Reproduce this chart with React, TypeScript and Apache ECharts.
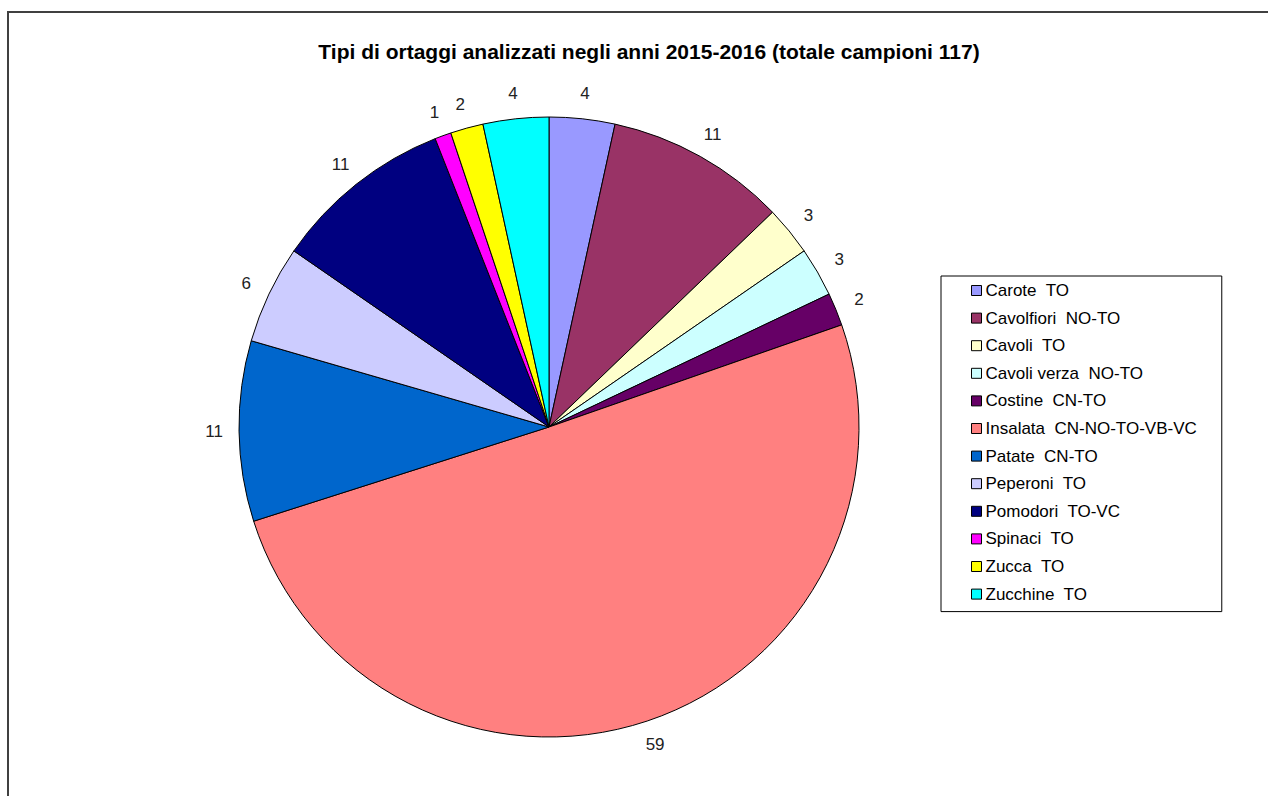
import React, { useEffect, useRef } from "react";
import * as echarts from "echarts";

const categories = [
  "Carote  TO",
  "Cavolfiori  NO-TO",
  "Cavoli  TO",
  "Cavoli verza  NO-TO",
  "Costine  CN-TO",
  "Insalata  CN-NO-TO-VB-VC",
  "Patate  CN-TO",
  "Peperoni  TO",
  "Pomodori  TO-VC",
  "Spinaci  TO",
  "Zucca  TO",
  "Zucchine  TO",
];
const values = [4, 11, 3, 3, 2, 59, 11, 6, 11, 1, 2, 4];
const colors = [
  "#9999FF",
  "#993366",
  "#FFFFCC",
  "#CCFFFF",
  "#660066",
  "#FF8080",
  "#0066CC",
  "#CCCCFF",
  "#000080",
  "#FF00FF",
  "#FFFF00",
  "#00FFFF",
];
const title = "Tipi di ortaggi analizzati negli anni 2015-2016 (totale campioni 117)";

const FONT = "'Liberation Sans', Arial, sans-serif";

export default function App() {
  const ref = useRef<HTMLDivElement>(null);
  useEffect(() => {
    if (!ref.current) return;
    const chart = echarts.init(ref.current, undefined, { renderer: "svg" });
    chart.setOption({
      animation: false,
      backgroundColor: "#fff",
      title: {
        text: title,
        left: 644,
        top: 36,
        textAlign: "center",
        textStyle: { fontFamily: FONT, fontSize: 21, fontWeight: "bold", color: "#000" },
      },
      legend: {
        orient: "vertical",
        left: 941,
        top: 276,
        padding: [6, 25, 9, 30],
        borderColor: "#000",
        borderWidth: 1,
        itemWidth: 10,
        itemHeight: 10,
        itemGap: 10.6,
        icon: "rect",
        itemStyle: { borderColor: "#000", borderWidth: 1 },
        textStyle: { fontFamily: FONT, fontSize: 17, color: "#000", lineHeight: 17, padding: [0, 0, 0, -1] },
        data: categories,
      },
      graphic: [
        {
          type: "rect",
          shape: { x: 8, y: 12, width: 1300, height: 850 },
          style: { fill: "none", stroke: "#404040", lineWidth: 2 },
          silent: true,
        },
      ],
      series: [
        {
          type: "pie",
          center: [549, 427],
          radius: 310,
          startAngle: 90,
          clockwise: true,
          avoidLabelOverlap: false,
          itemStyle: { borderColor: "#000", borderWidth: 1 },
          label: {
            show: true,
            position: "outside",
            formatter: "{c}",
            fontFamily: FONT,
            fontSize: 17,
            color: "#222",
            distanceToLabelLine: 0,
          },
          labelLine: { show: false, length: 25, length2: 0 },
          labelLayout: () => ({ align: "center", verticalAlign: "middle" }),
          emphasis: { disabled: true },
          data: categories.map((c, i) => ({ name: c, value: values[i], itemStyle: { color: colors[i] } })),
        },
      ],
    });
    return () => chart.dispose();
  }, []);
  return (
    <div
      ref={ref}
      style={{ position: "fixed", left: 0, top: 0, width: 1268, height: 796 }}
    />
  );
}
